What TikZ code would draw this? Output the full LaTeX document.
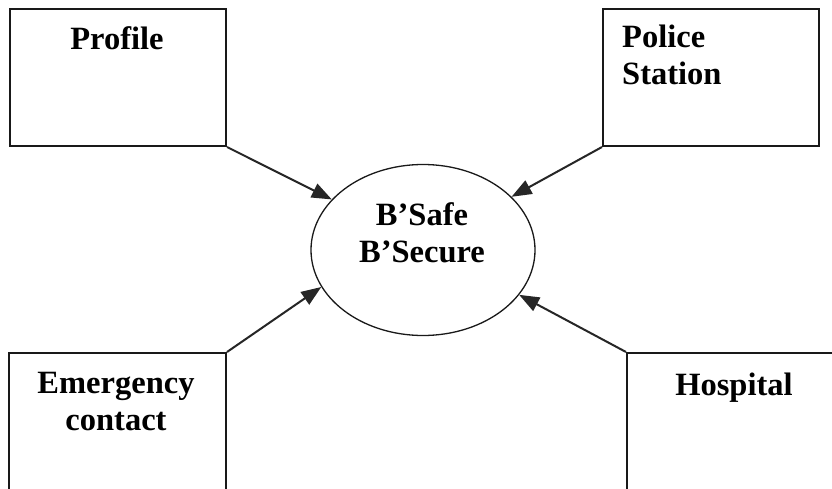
\documentclass[tikz,border=0pt]{standalone}
\usepackage{fontspec}
\setmainfont{Liberation Serif}
\usetikzlibrary{arrows.meta,shapes.geometric}
\begin{document}
\begin{tikzpicture}[x=1pt,y=1pt,
  boxnode/.style={draw=black!90,line width=2pt,rectangle,inner sep=0pt},
  lbl/.style={font=\fontsize{32.5}{37}\selectfont\bfseries,inner sep=0pt},
  conn/.style={draw=black!85,line width=2pt,-{Triangle[length=20pt,width=15pt]}}]
\useasboundingbox (0,0) rectangle (832,488);
\clip (0,0) rectangle (832,488);
\fill[white] (0,0) rectangle (832,488);
\node[boxnode,minimum width=216pt,minimum height=137pt] (profile) at (118,410.5) {};
\node[boxnode,minimum width=216pt,minimum height=137pt] (police) at (711,410.5) {};
\node[boxnode,minimum width=217pt,minimum height=137pt] (emergency) at (117.5,66.5) {};
\node[boxnode,minimum width=214pt,minimum height=137pt] (hospital) at (734,66.5) {};
\node[draw=black!90,line width=1.3pt,ellipse,minimum width=224pt,minimum height=171pt,inner sep=0pt] (c) at (423,238) {};
\node[lbl,anchor=base] (tprofile) at (117,438) {Profile};
\node[lbl,anchor=base west,align=left] (tpolice) at (622,403) {Police\\Station};
\node[lbl,anchor=base,align=center] (temergency) at (116,58) {Emergency\\contact};
\node[lbl,anchor=base] (thospital) at (734,93) {Hospital};
\node[lbl,anchor=base,align=center] (tc) at (422,226) {B’Safe\\B’Secure};
\draw[conn] (profile.south east) -- (c.151);
\draw[conn] (police.south west) -- (c.31);
\draw[conn] (emergency.north east) -- (c.200);
\draw[conn] (hospital.north west) -- (c.335);
\end{tikzpicture}
\end{document}
